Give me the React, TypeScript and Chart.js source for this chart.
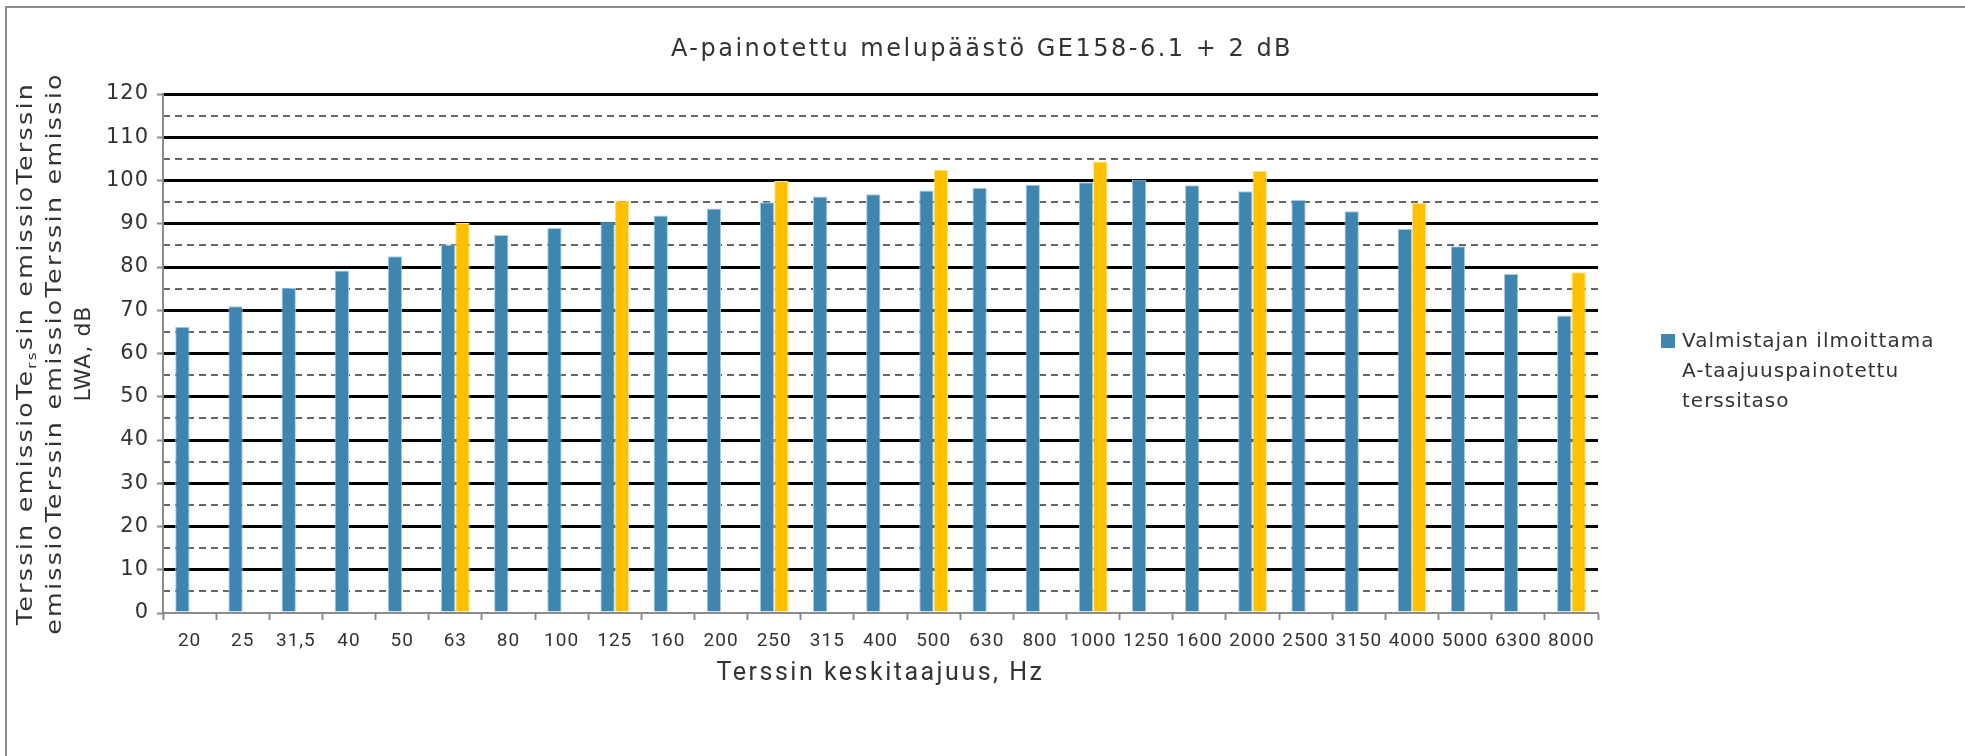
import React, { useEffect, useRef } from "react";
import { Chart, registerables } from "chart.js";

Chart.register(...registerables);

const categories = ["20", "25", "31,5", "40", "50", "63", "80", "100", "125", "160", "200", "250", "315", "400", "500", "630", "800", "1000", "1250", "1600", "2000", "2500", "3150", "4000", "5000", "6300", "8000"];

const declaredLevels = [66.2, 70.9, 75.2, 79.2, 82.5, 85.2, 87.4, 89.0, 90.5, 91.9, 93.5, 95.0, 96.3, 96.8, 97.7, 98.3, 99.0, 99.6, 100.2, 98.9, 97.5, 95.5, 92.9, 88.8, 84.8, 78.4, 68.8];

const plusTwoLevels = [null, null, null, null, null, 90.2, null, null, 95.4, null, null, 99.9, null, null, 102.5, null, null, 104.4, null, null, 102.2, null, null, 94.8, null, null, 78.8];

const yMajorTicks = [0, 10, 20, 30, 40, 50, 60, 70, 80, 90, 100, 110, 120];

const chartTitle = "A-painotettu melupäästö GE158-6.1 + 2 dB";
const xTitle = "Terssin keskitaajuus, Hz";
const yTitleLine1 = ["Terssin emissioTe", "rs", "sin emissioTerssin"];
const yTitleLine2 = "emissioTerssin emissioTerssin emissio";
const yTitleLine3 = "LWA, dB";
const legendLines = ["Valmistajan ilmoittama", "A-taajuuspainotettu", "terssitaso"];

const BLUE = "#3E86AF";
const YELLOW = "#FFC000";
const TEXT = "#333333";

const W = 1965;
const H = 756;
const PLOT = { left: 163, top: 94, right: 1598, bottom: 613 };

const decorPlugin = {
  id: "decor",
  beforeUpdate(chart: any) {
    chart.ctx.letterSpacing = "1px";
  },
  beforeDraw(chart: any) {
    const ctx = chart.ctx;
    ctx.save();
    ctx.fillStyle = "#ffffff";
    ctx.fillRect(0, 0, W, H);
    ctx.strokeStyle = "#8c8c8c";
    ctx.lineWidth = 2;
    ctx.strokeRect(6, 7, 4000, 4000);
    ctx.restore();
    ctx.letterSpacing = "1px";
  },
  afterDraw(chart: any) {
    const ctx = chart.ctx;
    const area = chart.chartArea;
    ctx.save();
    ctx.fillStyle = TEXT;
    ctx.textBaseline = "middle";

    // title
    ctx.letterSpacing = "2.5px";
    ctx.font = "24px 'DejaVu Sans'";
    ctx.textAlign = "center";
    ctx.fillText(chartTitle, 982, 50);

    // x title
    ctx.letterSpacing = "2.5px";
    ctx.font = "25px Roboto";
    ctx.fillText(xTitle, (area.left + area.right) / 2, 674);

    // y title (rotated)
    const cy = (area.top + area.bottom) / 2;
    const mainFont = "22px 'DejaVu Sans'";
    const subFont = "13px 'DejaVu Sans'";
    const stretch = 1.15;
    ctx.textAlign = "left";
    const drawRot = (x: number, sx: number, fn: () => void) => {
      ctx.save();
      ctx.translate(x, cy);
      ctx.rotate(-Math.PI / 2);
      ctx.scale(sx, 1);
      fn();
      ctx.restore();
    };
    ctx.letterSpacing = "2px";
    drawRot(26, stretch, () => {
      ctx.font = mainFont;
      const w0 = ctx.measureText(yTitleLine1[0]).width;
      const w2 = ctx.measureText(yTitleLine1[2]).width;
      ctx.font = subFont;
      const w1 = ctx.measureText(yTitleLine1[1]).width;
      let x = -(w0 + w1 + w2) / 2;
      ctx.font = mainFont;
      ctx.fillText(yTitleLine1[0], x, 0);
      x += w0;
      ctx.font = subFont;
      ctx.fillText(yTitleLine1[1], x, 7);
      x += w1;
      ctx.font = mainFont;
      ctx.fillText(yTitleLine1[2], x, 0);
    });
    ctx.textAlign = "center";
    drawRot(55, stretch, () => {
      ctx.font = mainFont;
      ctx.fillText(yTitleLine2, 0, 0);
    });
    ctx.letterSpacing = "1px";
    drawRot(84, 1, () => {
      ctx.font = mainFont;
      ctx.fillText(yTitleLine3, 0, 0);
    });

    // legend
    ctx.fillStyle = BLUE;
    ctx.fillRect(1661, 334, 14, 14);
    ctx.fillStyle = TEXT;
    ctx.textAlign = "left";
    ctx.letterSpacing = "1px";
    ctx.font = "20px 'DejaVu Sans'";
    legendLines.forEach((t, i) => ctx.fillText(t, 1682, 342 + i * 30));
    ctx.restore();
  },
};

export default function App() {
  const ref = useRef<HTMLCanvasElement | null>(null);

  useEffect(() => {
    if (!ref.current) return;
    const chart = new Chart(ref.current, {
      type: "bar",
      data: {
        labels: categories,
        datasets: [
          {
            label: legendLines.join(" "),
            data: declaredLevels,
            backgroundColor: BLUE,
            borderColor: "#a9cbe0",
            borderWidth: 1,
            yAxisID: "y",
          },
          {
            label: "+ 2 dB",
            data: plusTwoLevels as any,
            backgroundColor: YELLOW,
            borderColor: "#ffe28c",
            borderWidth: 1,
            yAxisID: "y",
          },
        ],
      },
      options: {
        responsive: false,
        animation: false,
        events: [],
        layout: { padding: { top: PLOT.top, left: 0, right: W - PLOT.right, bottom: 0 } },
        datasets: { bar: { categoryPercentage: 0.54, barPercentage: 1 } },
        plugins: {
          legend: { display: false },
          title: { display: false },
          tooltip: { enabled: false },
        },
        scales: {
          x: {
            type: "category",
            grid: {
              offset: true,
              drawOnChartArea: false,
              drawTicks: true,
              tickLength: 7,
              tickColor: "#8c8c8c",
              tickWidth: 2,
            },
            border: { color: "#8c8c8c", width: 2 },
            ticks: {
              autoSkip: false,
              maxRotation: 0,
              minRotation: 0,
              padding: 10,
              color: TEXT,
              font: { family: "Roboto", size: 19 },
            },
            afterFit(scale: any) {
              scale.height = H - PLOT.bottom;
            },
          },
          y: {
            type: "linear",
            position: "left",
            min: 0,
            max: 120,
            afterBuildTicks(scale: any) {
              scale.ticks = yMajorTicks.map((v) => ({ value: v }));
            },
            grid: {
              color: (c: any) => (c.tick && c.tick.value === 0 ? "rgba(0,0,0,0)" : "#000000"),
              lineWidth: 3,
              drawTicks: true,
              tickLength: 6,
              tickColor: "#8c8c8c",
              tickWidth: 2,
            },
            border: { color: "#8c8c8c", width: 2 },
            ticks: {
              padding: 8,
              color: TEXT,
              font: { family: "'DejaVu Sans'", size: 21 },
            },
            afterFit(scale: any) {
              scale.width = PLOT.left;
            },
          },
          y2: {
            type: "linear",
            position: "left",
            min: 0,
            max: 120,
            ticks: { display: false, stepSize: 5 },
            grid: {
              color: (c: any) => (c.tick && c.tick.value % 10 === 0 ? "rgba(0,0,0,0)" : "#666666"),
              lineWidth: 2,
              drawTicks: false,
            },
            border: { display: false, dash: [7, 5] },
            afterFit(scale: any) {
              scale.width = 0;
            },
          },
        },
      },
      plugins: [decorPlugin],
    } as any);
    return () => chart.destroy();
  }, []);

  return (
    <div style={{ position: "fixed", left: 0, top: 0, width: W, height: H, background: "#fff" }}>
      <canvas ref={ref} width={W} height={H} style={{ display: "block", width: W, height: H }} />
    </div>
  );
}
